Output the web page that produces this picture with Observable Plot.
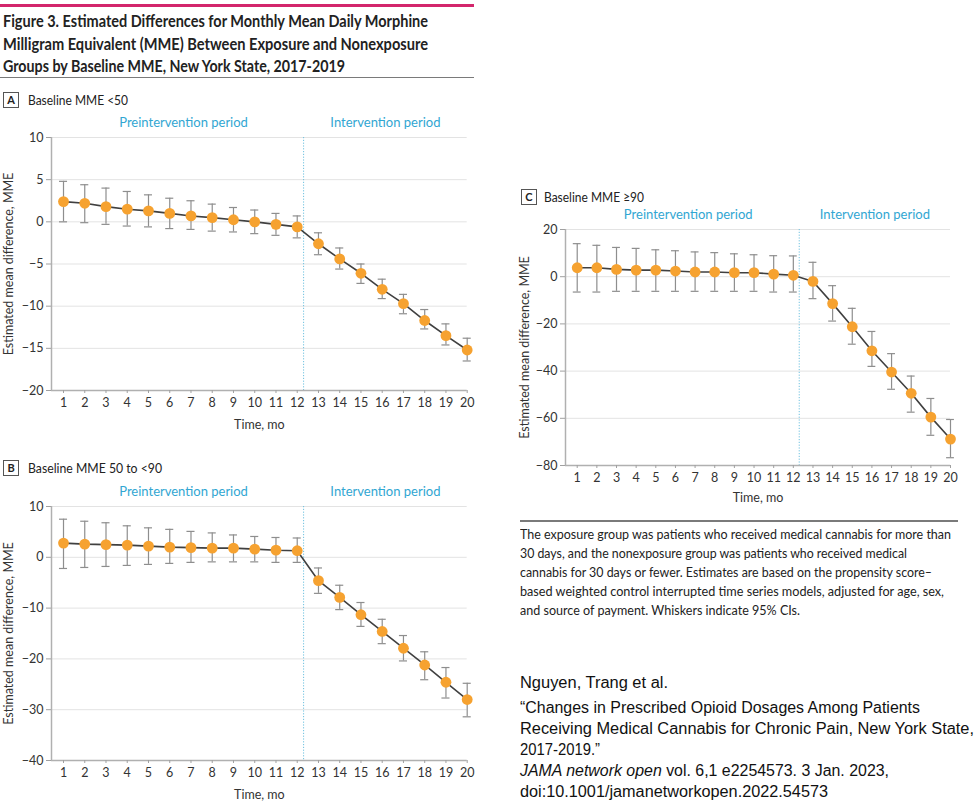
<!DOCTYPE html>
<html>
<head>
<meta charset="utf-8">
<script src="https://cdn.jsdelivr.net/npm/d3@7"></script>
<script src="https://cdn.jsdelivr.net/npm/@observablehq/plot@0.6"></script>
<style>
  html, body { margin: 0; padding: 0; background: #fff; }
  body { width: 980px; height: 804px; position: relative; overflow: hidden; font-family: Lato, "Noto Sans", sans-serif; color: #222; }
  .abs { position: absolute; }
  .fit { display: inline-block; white-space: nowrap; transform-origin: 0 50%; }
  .title div { height: 22.5px; line-height: 22.5px; font-size: 17.5px; font-weight: 700; color: #222; }
  .caption div { height: 19px; line-height: 19px; font-size: 13.5px; color: #222; }
  .cite { font-family: "Liberation Sans", Arial, sans-serif; font-size: 16px; color: #111; }
  .cite div { height: 21px; line-height: 21px; }
  .box { border: 1px solid #555; width: 16px; height: 16px; box-sizing: border-box; font-size: 11px; font-weight: 700; text-align: center; line-height: 14px; }
  .plab { font-size: 13.5px; line-height: 16px; color: #222; }
</style>
</head>
<body>
<div class="abs" style="left:0;top:4px;width:474px;height:2.5px;background:#d3266c"></div>
<div class="abs title" style="left:3px;top:10px;">
  <div><span class="fit" data-w="425">Figure 3. Estimated Differences for Monthly Mean Daily Morphine</span></div>
  <div><span class="fit" data-w="425">Milligram Equivalent (MME) Between Exposure and Nonexposure</span></div>
  <div><span class="fit" data-w="342">Groups by Baseline MME, New York State, 2017-2019</span></div>
</div>
<div class="abs" style="left:0;top:76.5px;width:474px;height:1.5px;background:#7a7a7a"></div>

<div class="abs box" style="left:3px;top:92px;">A</div>
<div class="abs plab" style="left:28px;top:92px;"><span class="fit" data-w="100">Baseline MME &lt;50</span></div>
<div class="abs box" style="left:3px;top:460px;">B</div>
<div class="abs plab" style="left:28px;top:460px;"><span class="fit" data-w="134">Baseline MME 50 to &lt;90</span></div>
<div class="abs box" style="left:521px;top:189px;">C</div>
<div class="abs plab" style="left:544px;top:189px;"><span class="fit" data-w="100">Baseline MME ≥90</span></div>

<div id="pA" class="abs" style="left:0;top:110px;"></div>
<div id="pB" class="abs" style="left:0;top:480px;"></div>
<div id="pC" class="abs" style="left:515px;top:205px;"></div>

<div class="abs" style="left:520px;top:520px;width:438px;height:1.5px;background:#7a7a7a"></div>
<div class="abs caption" style="left:520px;top:525px;">
  <div><span class="fit" data-w="431">The exposure group was patients who received medical cannabis for more than</span></div>
  <div><span class="fit" data-w="387">30 days, and the nonexposure group was patients who received medical</span></div>
  <div><span class="fit" data-w="412">cannabis for 30 days or fewer. Estimates are based on the propensity score–</span></div>
  <div><span class="fit" data-w="424">based weighted control interrupted time series models, adjusted for age, sex,</span></div>
  <div><span class="fit" data-w="280">and source of payment. Whiskers indicate 95% CIs.</span></div>
</div>

<div class="abs cite" style="left:520px;top:672px;">
  <div style="margin-bottom:4px"><span class="fit" data-w="148">Nguyen, Trang et al.</span></div>
  <div><span class="fit" data-w="400">“Changes in Prescribed Opioid Dosages Among Patients</span></div>
  <div><span class="fit" data-w="454">Receiving Medical Cannabis for Chronic Pain, New York State,</span></div>
  <div><span class="fit" data-w="80">2017-2019.”</span></div>
  <div><span class="fit" data-w="369"><i>JAMA network open</i> vol. 6,1 e2254573. 3 Jan. 2023,</span></div>
  <div><span class="fit" data-w="308">doi:10.1001/jamanetworkopen.2022.54573</span></div>
</div>

<script>
// ---- data ----
const months = [1, 2, 3, 4, 5, 6, 7, 8, 9, 10, 11, 12, 13, 14, 15, 16, 17, 18, 19, 20];
const interventionStart = 12.3;
const periodLabels = ["Preintervention period", "Intervention period"];
const periodCenters = [6.65, 16.15];

const aEst = [2.4, 2.2, 1.8, 1.5, 1.3, 1.0, 0.7, 0.5, 0.25, 0.0, -0.3, -0.6, -2.6, -4.4, -6.1, -8.0, -9.7, -11.7, -13.5, -15.2];
const aLo  = [0.0, -0.1, -0.3, -0.5, -0.6, -0.8, -0.9, -1.1, -1.2, -1.4, -1.6, -1.9, -3.9, -5.6, -7.3, -9.1, -10.9, -12.7, -14.6, -16.5];
const aHi  = [4.8, 4.4, 4.0, 3.6, 3.2, 2.8, 2.5, 2.1, 1.7, 1.4, 1.0, 0.7, -1.3, -3.1, -5.0, -6.8, -8.6, -10.4, -12.1, -13.8];
const aTicks = [-20, -15, -10, -5, 0, 5, 10];

const bEst = [2.8, 2.6, 2.5, 2.4, 2.2, 2.0, 1.9, 1.8, 1.8, 1.6, 1.4, 1.3, -4.6, -7.9, -11.3, -14.6, -17.9, -21.2, -24.6, -28.0];
const bLo  = [-2.2, -2.0, -1.8, -1.6, -1.4, -1.2, -1.0, -0.9, -0.9, -0.9, -1.0, -1.0, -7.1, -10.3, -13.6, -17.0, -20.4, -24.1, -27.7, -31.4];
const bHi  = [7.5, 7.1, 6.8, 6.2, 5.8, 5.5, 5.1, 4.8, 4.4, 4.1, 3.9, 3.8, -2.1, -5.5, -8.9, -12.2, -15.4, -18.6, -21.7, -24.8];
const bTicks = [-40, -30, -20, -10, 0, 10];

const cEst = [3.8, 3.8, 3.1, 2.8, 2.8, 2.4, 2.0, 2.0, 1.7, 1.7, 1.1, 0.6, -2.0, -11.4, -21.2, -31.4, -40.4, -49.4, -59.5, -68.8];
const cLo  = [-6.5, -6.5, -6.2, -6.2, -6.2, -6.2, -6.2, -6.2, -6.2, -6.2, -6.5, -6.5, -9.3, -18.8, -28.6, -38.0, -47.7, -57.4, -67.2, -76.7];
const cHi  = [14.0, 13.3, 12.4, 12.0, 11.4, 11.0, 10.5, 10.2, 9.7, 9.3, 8.9, 8.8, 6.1, -3.8, -13.4, -23.2, -32.6, -42.1, -51.6, -60.5];
const cTicks = [-80, -60, -40, -20, 0, 20];

function rows(est, lo, hi) {
  return months.map((t, i) => ({t, est: est[i], lo: lo[i], hi: hi[i]}));
}

function panel(o) {
  const data = o.data;
  const cap = o.cap;
  return Plot.plot({
    width: o.width, height: o.height,
    marginLeft: o.marginLeft, marginRight: o.marginRight, marginTop: o.marginTop, marginBottom: o.marginBottom,
    style: {fontFamily: "Lato, 'Noto Sans', sans-serif", fontSize: "12.5px", color: "#333", background: "transparent", overflow: "visible"},
    x: {domain: [o.xMin, 20]},
    y: {domain: o.yDomain},
    marks: [
      Plot.gridY(o.yTicks, {stroke: "#e3e3e3", strokeOpacity: 1, strokeWidth: 1}),
      Plot.ruleX([interventionStart], {stroke: "#6ec1df", strokeDasharray: "1.2 1.6", strokeWidth: 1}),
      Plot.ruleY([o.yDomain[0]], {stroke: "#b0b0b0", strokeWidth: 1.5}),
      Plot.ruleX([o.xMin], {stroke: "#b0b0b0", strokeWidth: 1.5}),
      Plot.axisY({ticks: o.yTicks, tickSize: 5, tickPadding: 3, stroke: "#a0a0a0", fill: "#333", fontSize: 12.5,
        label: "Estimated mean difference, MME", labelAnchor: "center", labelArrow: "none", labelOffset: o.yLabelOffset}),
      Plot.axisX({ticks: months, tickSize: 3, tickPadding: 5, stroke: "#a0a0a0", fill: "#333", fontSize: 12.5, tickFormat: d => String(d),
        label: "Time, mo", labelAnchor: "center", labelArrow: "none", labelOffset: o.xLabelOffset}),
      Plot.ruleX(data, {x: "t", y1: "lo", y2: "hi", stroke: "#8e8e8e", strokeWidth: 1.2}),
      Plot.ruleY(data, {y: "lo", x1: d => d.t - cap, x2: d => d.t + cap, stroke: "#8e8e8e", strokeWidth: 1.2}),
      Plot.ruleY(data, {y: "hi", x1: d => d.t - cap, x2: d => d.t + cap, stroke: "#8e8e8e", strokeWidth: 1.2}),
      Plot.line(data, {x: "t", y: "est", stroke: "#404040", strokeWidth: 1.6}),
      Plot.dot(data, {x: "t", y: "est", r: 5.4, fill: "#f6a230", stroke: "none"}),
      Plot.text(periodLabels, {x: (d, i) => periodCenters[i], y: () => o.yDomain[1], dy: -14.3, text: d => d,
        fill: "#31a6d2", fontSize: 13})
    ]
  });
}

document.getElementById("pA").append(panel({
  data: rows(aEst, aLo, aHi), yDomain: [-20, 10], yTicks: aTicks,
  width: 480, height: 320, marginLeft: 51, marginRight: 13.3, marginTop: 27, marginBottom: 40,
  xMin: 0.435, cap: 0.19, yLabelOffset: 47, xLabelOffset: 38
}));
document.getElementById("pB").append(panel({
  data: rows(bEst, bLo, bHi), yDomain: [-40, 10], yTicks: bTicks,
  width: 480, height: 320, marginLeft: 51, marginRight: 13.3, marginTop: 26, marginBottom: 40,
  xMin: 0.435, cap: 0.19, yLabelOffset: 47, xLabelOffset: 38
}));
document.getElementById("pC").append(panel({
  data: rows(cEst, cLo, cHi), yDomain: [-80, 20], yTicks: cTicks,
  width: 450, height: 298, marginLeft: 50, marginRight: 15, marginTop: 24, marginBottom: 38,
  xMin: 0.404, cap: 0.2, yLabelOffset: 45, xLabelOffset: 36
}));

// fit text spans to the measured widths of the reference lines
document.querySelectorAll(".fit[data-w]").forEach(el => {
  const w = el.getBoundingClientRect().width;
  const target = +el.dataset.w;
  if (w > 0) el.style.transform = `scaleX(${(target / w).toFixed(4)})`;
});
</script>
</body>
</html>
